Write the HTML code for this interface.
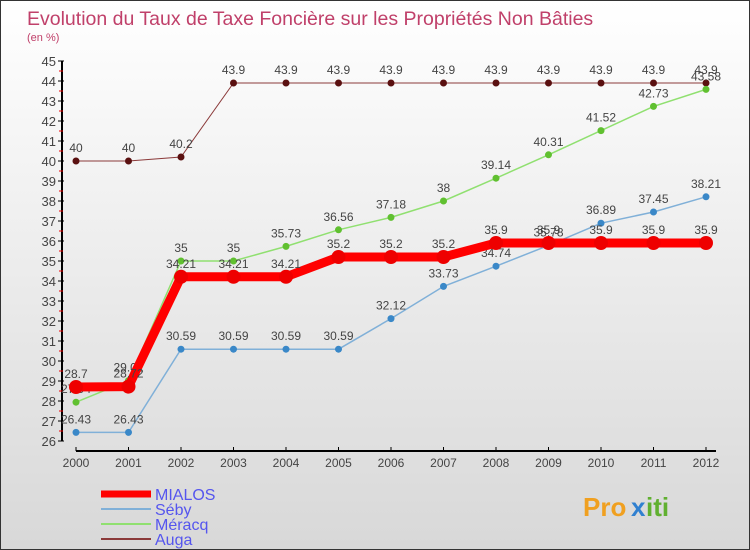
<!DOCTYPE html>
<html><head><meta charset="utf-8"><style>
body{margin:0;}
#c{width:748px;height:548px;border:1px solid #333;background:linear-gradient(#fff,#d8d8d8);position:relative;font-family:"Liberation Sans",sans-serif;overflow:hidden}
</style></head><body>
<div id="c">
<svg id="s" width="748" height="548" xmlns="http://www.w3.org/2000/svg" font-family="Liberation Sans, sans-serif">
<text x="26" y="24" font-size="19.5" fill="#c0406a">Evolution du Taux de Taxe Foncière sur les Propriétés Non Bâties</text>
<text x="26" y="40" font-size="11" fill="#c0406a">(en %)</text>
<g id="axes"></g><g id="series"></g><g id="legend"></g>
<g font-size="26" font-weight="bold">
<text x="582" y="515" fill="#f0a020">Pro</text><text x="630" y="515" fill="#3080d0">x</text><text x="645" y="515" fill="#60b030">iti</text>
</g>
</svg></div>
<script>
const years=[2000,2001,2002,2003,2004,2005,2006,2007,2008,2009,2010,2011,2012];
const yTicks=[26,27,28,29,30,31,32,33,34,35,36,37,38,39,40,41,42,43,44,45];
const mialos=[28.7,28.72,34.21,34.21,34.21,35.2,35.2,35.2,35.9,35.9,35.9,35.9,35.9];
const seby=[26.43,26.43,30.59,30.59,30.59,30.59,32.12,33.73,34.74,35.78,36.89,37.45,38.21];
const meracq=[27.94,29.02,35,35,35.73,36.56,37.18,38,39.14,40.31,41.52,42.73,43.58];
const auga=[40,40,40.2,43.9,43.9,43.9,43.9,43.9,43.9,43.9,43.9,43.9,43.9];
const NS="http://www.w3.org/2000/svg";
const xs=i=>75+i*52.5, ys=v=>60+(45-v)*20;
function mk(t,a,p){const e=document.createElementNS(NS,t);for(const k in a)e.setAttribute(k,a[k]);p.appendChild(e);return e;}
const ax=document.getElementById('axes');
let e=mk('line',{x1:61,y1:60,x2:61,y2:440,stroke:'#000','stroke-width':2},ax);


e=mk('line',{x1:75,y1:450,x2:715,y2:450,stroke:'#000','stroke-width':2},ax);


yTicks.forEach(v=>{
 mk('line',{x1:57,y1:ys(v),x2:63,y2:ys(v),stroke:'#000'},ax);
 if(v<45)mk('line',{x1:58,y1:ys(v+0.5),x2:62,y2:ys(v+0.5),stroke:'#e00'},ax);
 const t=mk('text',{x:55,y:ys(v)+5,'text-anchor':'end','font-size':13,fill:'#444'},ax);t.textContent=v;
 
 
});
years.forEach((y,i)=>{
 mk('line',{x1:xs(i),y1:446,x2:xs(i),y2:450,stroke:'#000'},ax);
 const t=mk('text',{x:xs(i),y:466,'text-anchor':'middle','font-size':12,fill:'#444'},ax);t.textContent=y;
 
 
});
const sg=document.getElementById('series');
const S=[
 {n:'auga',d:auga,c:'#8b3a3a',pc:'#5a1010',w:1,r:3.5,lbl:'Auga'},
 {n:'meracq',d:meracq,c:'#90e070',pc:'#60c030',w:1.5,r:3.5,lbl:'Méracq'},
 {n:'seby',d:seby,c:'#80b0d8',pc:'#3a88c8',w:1.5,r:3.5,lbl:'Séby'},
 {n:'mialos',d:mialos,c:'#f00',pc:'#e00',w:9,r:7,lbl:'MIALOS'}];
S.forEach(s=>{
 const g=mk('g',{},sg);
 
 
 const p=mk('polyline',{points:s.d.map((v,i)=>xs(i)+','+ys(v)).join(' '),fill:'none',stroke:s.c,'stroke-width':s.w},g);
 
 
 s.d.forEach((v,i)=>{
  const c=mk('circle',{cx:xs(i),cy:ys(v),r:s.r,fill:s.pc},g);
  
  
  const t=mk('text',{x:xs(i),y:ys(v)-9,'text-anchor':'middle','font-size':12,fill:'#444'},g);t.textContent=v;
  
  
 });
});
const lg=document.getElementById('legend');
[S[3],S[2],S[1],S[0]].forEach((s,i)=>{
 const y=493+i*15;
 const l=mk('line',{x1:100,y1:y,x2:150,y2:y,stroke:s.c,'stroke-width':s.n=='mialos'?7:2},lg);
 
 
 const t=mk('text',{x:154,y:y+6,'font-size':16,fill:'#5555ee'},lg);t.textContent=s.lbl;
 
 
});
</script></body></html>
